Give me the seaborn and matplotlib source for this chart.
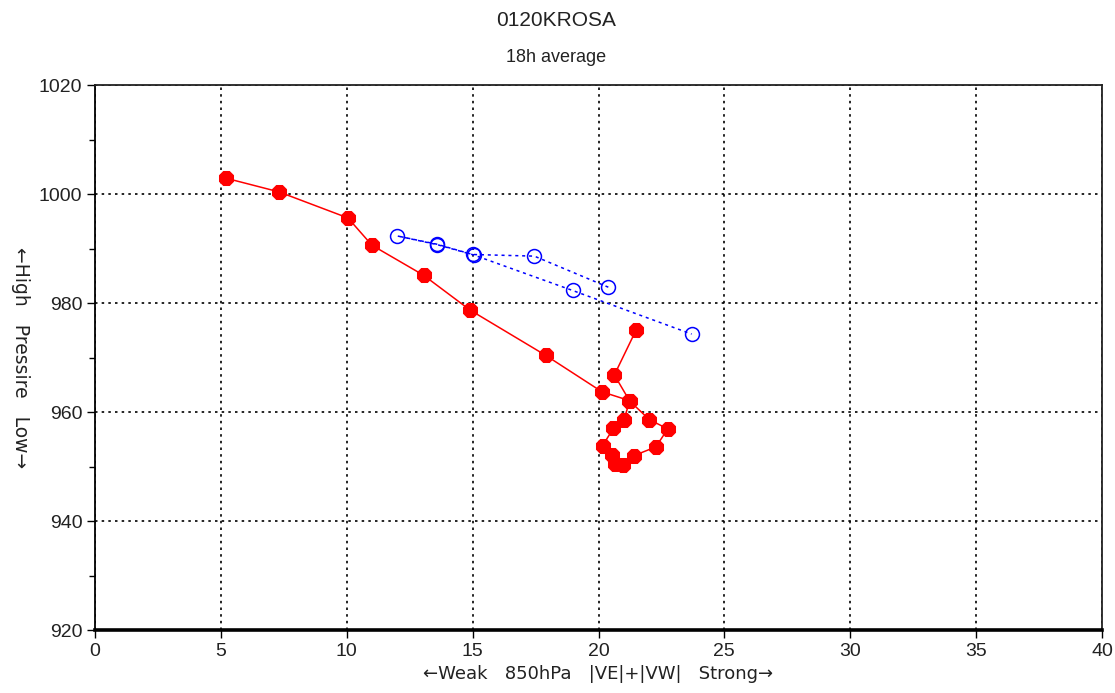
import matplotlib
matplotlib.use("Agg")
import matplotlib.pyplot as plt
import seaborn as sns
import pandas as pd
from matplotlib.ticker import MultipleLocator

sns.set_style("white")
plt.rcParams['font.family'] = ['Liberation Sans', 'DejaVu Sans']

# Red track (observed)
red_x = [5.2, 7.3, 10.05, 11.0, 13.05, 14.9, 17.9, 20.14, 21.22, 22.02, 22.75,
         22.28, 21.41, 20.96, 20.66, 20.52, 20.16, 20.59, 21.01, 21.24, 20.63, 21.5]
red_y = [1002.9, 1000.4, 995.6, 990.6, 985.1, 978.7, 970.4, 963.7, 962.1, 958.6, 956.9,
         953.6, 952.0, 950.3, 950.4, 952.1, 953.8, 957.0, 958.6, 962.0, 966.8, 975.1]

# Blue track
blue_x = [20.39, 17.45, 15.0, 13.57, 12.01, 13.6, 15.05, 18.97, 23.7]
blue_y = [982.9, 988.6, 988.9, 990.8, 992.3, 990.7, 988.8, 982.3, 974.3]

x_ticks = [0, 5, 10, 15, 20, 25, 30, 35, 40]
y_ticks = [920, 940, 960, 980, 1000, 1020]

df_red = pd.DataFrame({"x": red_x, "y": red_y})
df_blue = pd.DataFrame({"x": blue_x, "y": blue_y})

fig = plt.figure(figsize=(11.15, 6.93), dpi=100)
ax = fig.add_axes([95/1115, 63/693, (1102-95)/1115, (630-85)/693])

sns.lineplot(data=df_blue, x="x", y="y", sort=False, estimator=None, ax=ax,
             color="blue", linewidth=1.1, linestyle=(0, (2, 2.5)),
             marker="o", markersize=10, markerfacecolor="none",
             markeredgecolor="blue", markeredgewidth=1.1, zorder=3)
sns.lineplot(data=df_red, x="x", y="y", sort=False, estimator=None, ax=ax,
             color="red", linewidth=1.1, marker="8", markersize=11,
             markerfacecolor="red", markeredgecolor="red", zorder=4)

ax.set_xlim(0, 40)
ax.set_ylim(920, 1020)
ax.set_xticks(x_ticks)
ax.set_yticks(y_ticks)
ax.yaxis.set_minor_locator(MultipleLocator(10))
ax.tick_params(axis="both", which="major", direction="out", length=6, width=1,
               color="black", labelsize=14, labelcolor="#222222", pad=3,
               left=True, bottom=True)
ax.tick_params(axis="y", which="minor", direction="out", length=4, width=1,
               color="black", left=True)

ax.grid(True, which="major", color="black", linestyle=(0, (1.5, 2.5)), linewidth=1.2)
ax.set_axisbelow(True)

for name, sp in ax.spines.items():
    sp.set_visible(True)
    sp.set_color("#222222")
    sp.set_linewidth(1.3)
ax.spines["bottom"].set_linewidth(2.6)
ax.spines["bottom"].set_color("black")
ax.spines["left"].set_color("black")

ax.set_xlabel("←Weak   850hPa   |VE|+|VW|   Strong→", fontsize=13, color="#222222",
              labelpad=4, family=["DejaVu Sans"])
ax.set_ylabel("←High   Pressire   Low→", fontsize=13.5, color="#222222", rotation=-90,
              labelpad=20, family=["DejaVu Sans"])

fig.text(556/1115, 1 - 21/693, "0120KROSA", ha="center", va="center", fontsize=15, color="#222222")
fig.text(556/1115, 1 - 57/693, "18h average", ha="center", va="center", fontsize=13, color="#222222")

fig.savefig("out.png", dpi=100)
